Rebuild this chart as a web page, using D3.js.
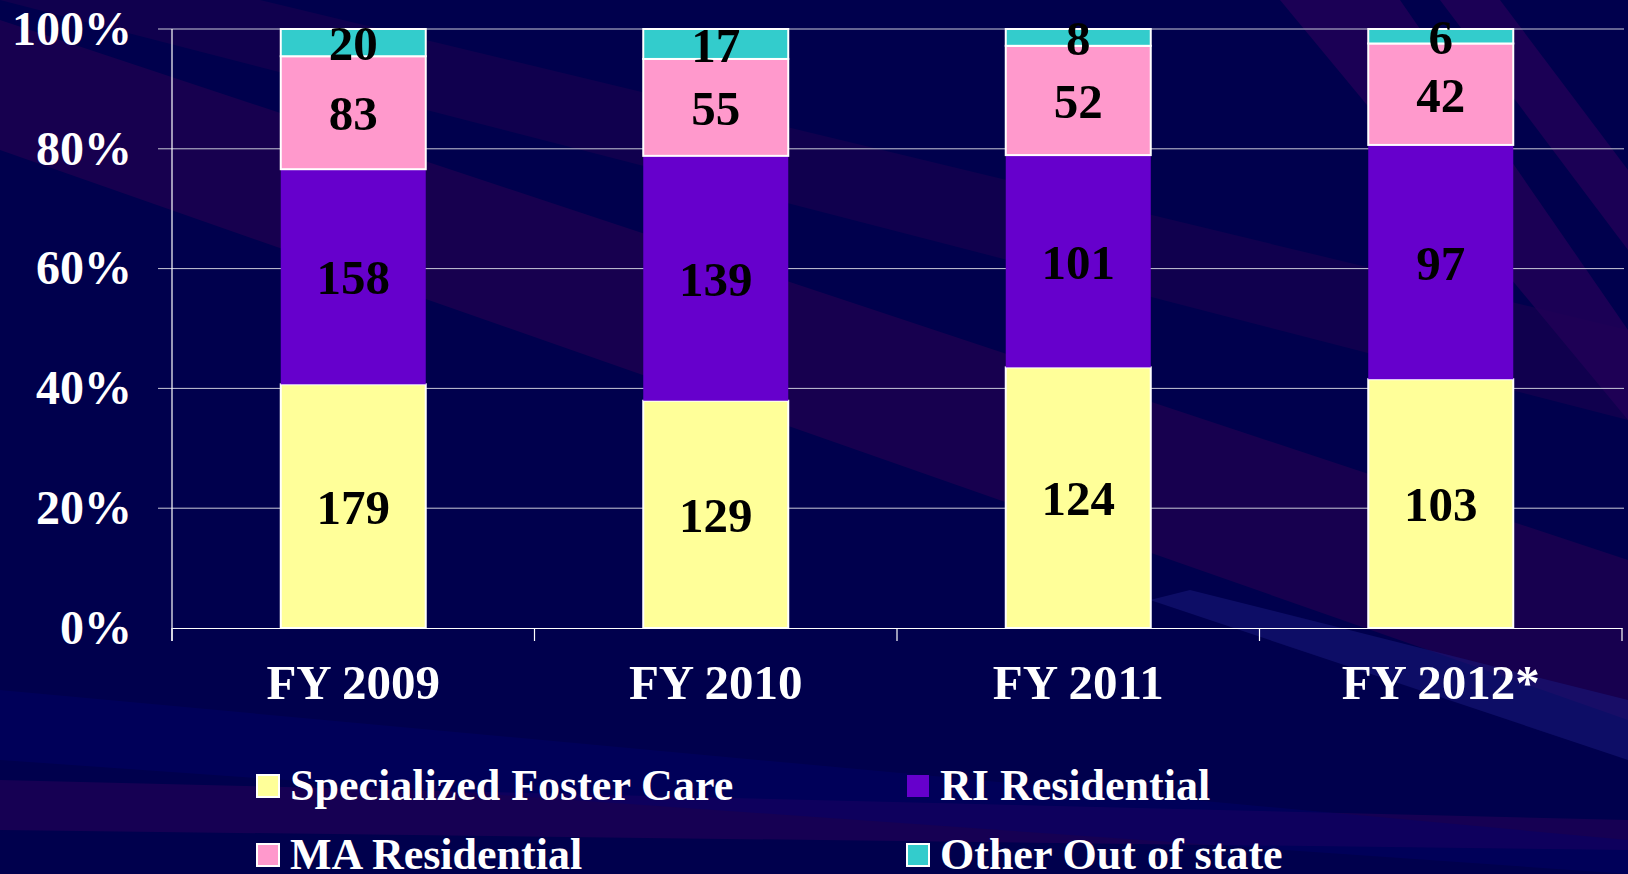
<!DOCTYPE html>
<meta charset="utf-8">
<script src="https://cdn.jsdelivr.net/npm/d3@7"></script>
<style>
  body { margin: 0; background: #00004d; }
  text { font-family: "Liberation Serif", "Times New Roman", serif; font-weight: bold; }
  .grid line { stroke: #c8c8d8; stroke-width: 1px; }
  .axis path, .axis line { stroke: #ffffff; stroke-width: 1.2px; }
</style>
<body>
<script>

// data (counts per placement type)
var years = ["FY 2009", "FY 2010", "FY 2011", "FY 2012*"];
var seriesNames = ["Specialized Foster Care", "RI Residential", "MA Residential", "Other Out of state"];
var fosterCare = [179, 129, 124, 103];
var riResidential = [158, 139, 101, 97];
var maResidential = [83, 55, 52, 42];
var otherOutOfState = [20, 17, 8, 6];
var yTicks = [0, 0.2, 0.4, 0.6, 0.8, 1];

var colors = ["#ffff99", "#6600cc", "#ff99cc", "#33cccc"];
var outline = ["#ffffff", "none", "#ffffff", "#ffffff"];

var width = 1628,
    height = 874;

var table = years.map(function(y, i) {
  var row = {year: y};
  row[seriesNames[0]] = fosterCare[i];
  row[seriesNames[1]] = riResidential[i];
  row[seriesNames[2]] = maResidential[i];
  row[seriesNames[3]] = otherOutOfState[i];
  return row;
});

var stacked = d3.stack()
    .keys(seriesNames)
    .offset(d3.stackOffsetExpand)(table);

var svg = d3.select("body").append("svg")
    .attr("width", width)
    .attr("height", height);

// background streaks
var bg = svg.append("g");
bg.append("rect").attr("width", width).attr("height", height).attr("fill", "#00004d");
var streaks = [
  {pts: [[0, 20], [0, 150], [1628, 720], [1628, 560]], fill: "#1a0050", op: 0.9},
  {pts: [[0, 0], [260, 0], [1628, 330], [1628, 420]], fill: "#1a0050", op: 0.6},
  {pts: [[1280, 0], [1400, 0], [1628, 330], [1628, 420]], fill: "#220058", op: 0.8},
  {pts: [[1440, 0], [1500, 0], [1628, 170], [1628, 250]], fill: "#220058", op: 0.8},
  {pts: [[0, 780], [0, 830], [1628, 850], [1628, 820]], fill: "#1c0055", op: 0.8},
  {pts: [[1150, 600], [1190, 590], [1628, 700], [1628, 760]], fill: "#1a1a80", op: 0.5},
  {pts: [[0, 690], [0, 760], [1628, 874], [1628, 840]], fill: "#000070", op: 0.35}
];
bg.selectAll("polygon")
  .data(streaks)
  .enter().append("polygon")
  .attr("points", function(d) { return d.pts.map(function(p) { return p.join(","); }).join(" "); })
  .attr("fill", function(d) { return d.fill; })
  .attr("opacity", function(d) { return d.op; });

var x = d3.scaleBand()
    .domain(years)
    .range([172, 1622])
    .padding(0);

var y = d3.scaleLinear()
    .domain([0, 1])
    .range([628, 29]);

var barW = x.bandwidth() * 0.4;

// gridlines + y tick labels
svg.append("g")
    .attr("class", "grid")
    .selectAll("line")
    .data(yTicks.slice(1))
    .enter().append("line")
    .attr("x1", 158)
    .attr("x2", 1624)
    .attr("y1", function(d) { return y(d); })
    .attr("y2", function(d) { return y(d); });

svg.append("g")
    .selectAll("text")
    .data(yTicks)
    .enter().append("text")
    .attr("x", 132)
    .attr("y", function(d) { return y(d); })
    .attr("dy", "0.33em")
    .attr("text-anchor", "end")
    .attr("fill", "#ffffff")
    .style("font-size", "48px")
    .text(d3.format(".0%"));

// bars
var layer = svg.append("g")
    .selectAll("g")
    .data(stacked)
    .enter().append("g")
    .attr("fill", function(d, i) { return colors[i]; })
    .attr("stroke", function(d, i) { return outline[i]; })
    .attr("stroke-width", 2);

layer.selectAll("rect")
    .data(function(d) { return d; })
    .enter().append("rect")
    .attr("x", function(d) { return x(d.data.year) + (x.bandwidth() - barW) / 2; })
    .attr("width", barW)
    .attr("y", function(d) { return y(d[1]); })
    .attr("height", function(d) { return y(d[0]) - y(d[1]); });

// value labels
stacked.forEach(function(s) {
  svg.append("g")
    .selectAll("text")
    .data(s)
    .enter().append("text")
    .attr("x", function(d) { return x(d.data.year) + x.bandwidth() / 2; })
    .attr("y", function(d) { return (y(d[0]) + y(d[1])) / 2; })
    .attr("dy", "0.36em")
    .attr("text-anchor", "middle")
    .attr("fill", "#000000")
    .style("font-size", "49px")
    .text(function(d) { return d.data[s.key]; });
});

// axes
var yAxis = svg.append("g")
    .attr("class", "axis")
    .attr("transform", "translate(172,0)")
    .call(d3.axisLeft(y).tickValues([]).tickSizeOuter(0));
yAxis.select(".domain").attr("d", "M0,29V641");

var xAxis = svg.append("g")
    .attr("class", "axis")
    .attr("transform", "translate(0,628)")
    .call(d3.axisBottom(x).tickSize(0).tickSizeOuter(0));
xAxis.selectAll("text")
    .attr("fill", "#ffffff")
    .attr("y", 71)
    .attr("dy", 0)
    .style("font-size", "49px");

// band boundary tick marks
var bounds = years.map(function(d) { return x(d); }).concat([x.range()[1]]);
xAxis.selectAll(".bound")
    .data(bounds)
    .enter().append("line")
    .attr("class", "bound")
    .attr("x1", function(d) { return d; })
    .attr("x2", function(d) { return d; })
    .attr("y1", 0)
    .attr("y2", 13);

// legend
var legend = svg.append("g")
    .selectAll("g")
    .data(seriesNames)
    .enter().append("g")
    .attr("transform", function(d, i) {
      return "translate(" + (i % 2 === 0 ? 257 : 907) + "," + (i < 2 ? 775 : 844) + ")";
    });

legend.append("rect")
    .attr("width", 22)
    .attr("height", 22)
    .attr("fill", function(d, i) { return colors[i]; })
    .attr("stroke", function(d, i) { return outline[i]; })
    .attr("stroke-width", 2);

legend.append("text")
    .attr("x", 33)
    .attr("y", 25)
    .attr("fill", "#ffffff")
    .style("font-size", "44px")
    .text(function(d) { return d; });

</script>
</body>
